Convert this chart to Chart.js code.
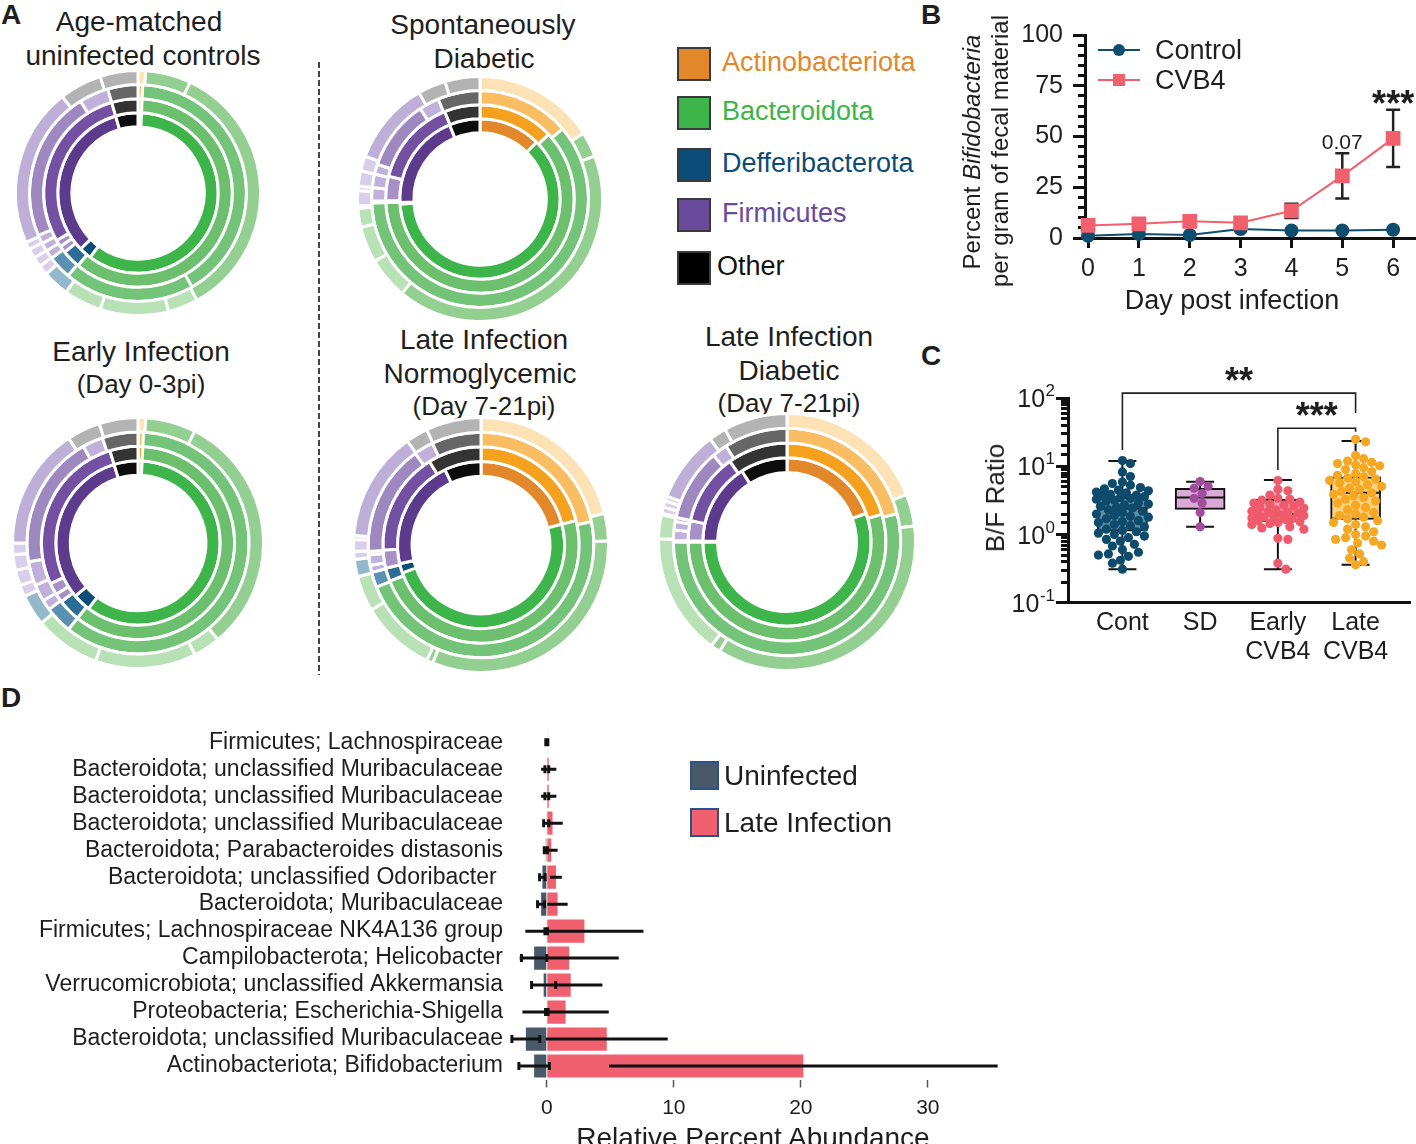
<!DOCTYPE html>
<html>
<head>
<meta charset="utf-8">
<title>Bifidobacteria figure</title>
<script src="https://cdn.jsdelivr.net/npm/chart.js@4.4.1/dist/chart.umd.min.js"></script>
<style>
  body { margin: 0; background: #fff; }
  #fig { position: relative; width: 1416px; height: 1144px; overflow: hidden; background: #fff;
         font-family: "Liberation Sans", Arial, Helvetica, sans-serif; color: #1e1e1e; }
  #fig canvas { position: absolute; }
  .lbl { position: absolute; white-space: nowrap; line-height: 1; }
  .ctr { transform: translateX(-50%); }
  .rot { transform: translate(-50%, -50%) rotate(-90deg); }
  .letter { position: absolute; font-weight: bold; font-size: 28px; line-height: 1; }
  .sw { position: absolute; box-sizing: border-box; }
  .dash { position: absolute; width: 1.5px;
          background: repeating-linear-gradient(to bottom, #444 0 6px, transparent 6px 9px); }
</style>
</head>
<body>
<div id="fig">
  <!-- panel A -->
  <div class="letter" style="left:1px;top:1px">A</div>
  <div class="lbl ctr" style="left:139px;top:8px;font-size:28px">Age-matched</div>
  <div class="lbl ctr" style="left:143px;top:42px;font-size:28px">uninfected controls</div>
  <div class="lbl ctr" style="left:483px;top:11px;font-size:28px">Spontaneously</div>
  <div class="lbl ctr" style="left:484px;top:45px;font-size:28px">Diabetic</div>
  <div class="lbl ctr" style="left:141px;top:338px;font-size:28px">Early Infection</div>
  <div class="lbl ctr" style="left:141px;top:371px;font-size:26px">(Day 0-3pi)</div>
  <div class="lbl ctr" style="left:484px;top:326px;font-size:28px">Late Infection</div>
  <div class="lbl ctr" style="left:480px;top:360px;font-size:28px">Normoglycemic</div>
  <div class="lbl ctr" style="left:484px;top:393px;font-size:26px">(Day 7-21pi)</div>
  <div class="lbl ctr" style="left:789px;top:323px;font-size:28px">Late Infection</div>
  <div class="lbl ctr" style="left:789px;top:357px;font-size:28px">Diabetic</div>
  <div class="lbl ctr" style="left:789px;top:390px;font-size:26px">(Day 7-21pi)</div>
  <div class="dash" style="left:318px;top:62px;height:613px"></div>

  <canvas id="ringCtrl"  width="248" height="248" style="left:14px;top:69px"></canvas>
  <canvas id="ringSD"    width="248" height="248" style="left:356px;top:75px"></canvas>
  <canvas id="ringEarly" width="254" height="254" style="left:11px;top:416px"></canvas>
  <canvas id="ringLateN" width="258" height="258" style="left:352px;top:416px"></canvas>
  <canvas id="ringLateD" width="260" height="260" style="left:657px;top:412px"></canvas>

  <div class="sw" style="left:677px;top:47px;width:34px;height:34px;background:#e2882a;border:2px solid #3a3a3a"></div>
  <div class="sw" style="left:677px;top:96px;width:34px;height:34px;background:#3db54a;border:2px solid #3a3a3a"></div>
  <div class="sw" style="left:677px;top:148px;width:34px;height:34px;background:#0c4c78;border:2px solid #3a3a3a"></div>
  <div class="sw" style="left:677px;top:198px;width:34px;height:34px;background:#6a4a9b;border:2px solid #3a3a3a"></div>
  <div class="sw" style="left:677px;top:251px;width:34px;height:34px;background:#000;border:2px solid #3a3a3a"></div>
  <div class="lbl" style="left:722px;top:49px;font-size:27px;color:#e2882a">Actinobacteriota</div>
  <div class="lbl" style="left:722px;top:98px;font-size:27px;color:#3db54a">Bacteroidota</div>
  <div class="lbl" style="left:722px;top:150px;font-size:27px;color:#0c4c78">Defferibacterota</div>
  <div class="lbl" style="left:722px;top:200px;font-size:27px;color:#6a4a9b">Firmicutes</div>
  <div class="lbl" style="left:717px;top:253px;font-size:27px;color:#111">Other</div>

  <!-- panel B -->
  <div class="letter" style="left:921px;top:1px">B</div>
  <canvas id="lineB" width="486" height="320" style="left:940px;top:0px"></canvas>
  <div class="lbl rot" style="left:972px;top:152px;font-size:24px">Percent <i>Bifidobacteria</i></div>
  <div class="lbl rot" style="left:1000px;top:151px;font-size:24px">per gram of fecal material</div>
  <div class="lbl ctr" style="left:1232px;top:287px;font-size:27px">Day post infection</div>
  <div class="sw" style="left:1098px;top:49px;width:42px;height:2px;background:#0e4d6e"></div>
  <div class="sw" style="left:1113px;top:44px;width:12px;height:12px;border-radius:50%;background:#0e4d6e"></div>
  <div class="sw" style="left:1098px;top:79px;width:42px;height:2px;background:#f25f6d"></div>
  <div class="sw" style="left:1113px;top:74px;width:12px;height:12px;background:#f25f6d"></div>
  <div class="lbl" style="left:1155px;top:37px;font-size:27px">Control</div>
  <div class="lbl" style="left:1155px;top:67px;font-size:27px">CVB4</div>

  <!-- panel C -->
  <div class="letter" style="left:921px;top:342px">C</div>
  <canvas id="boxC" width="476" height="330" style="left:940px;top:350px"></canvas>
  <div class="lbl rot" style="left:995px;top:498px;font-size:26px">B/F Ratio</div>

  <!-- panel D -->
  <div class="letter" style="left:1px;top:684px">D</div>
  <canvas id="barD" width="1020" height="436" style="left:0px;top:708px"></canvas>
  <div class="sw" style="left:690px;top:761px;width:29px;height:29px;background:#4a5969;border:2px solid #2d4f8f"></div>
  <div class="sw" style="left:690px;top:808px;width:29px;height:29px;background:#f0606e;border:2px solid #2d4f8f"></div>
  <div class="lbl" style="left:724px;top:762px;font-size:28px">Uninfected</div>
  <div class="lbl" style="left:724px;top:809px;font-size:28px">Late Infection</div>
  <div class="lbl ctr" style="left:753px;top:1124px;font-size:28px">Relative Percent Abundance</div>
</div>

<script>
Chart.defaults.font.family = '"Liberation Sans", Arial, Helvetica, sans-serif';
Chart.defaults.color = '#1e1e1e';
Chart.defaults.animation = false;
Chart.defaults.events = [];
Chart.defaults.responsive = false;
Chart.defaults.plugins.legend.display = false;
Chart.defaults.plugins.tooltip.enabled = false;

const FONT = '"Liberation Sans", Arial, Helvetica, sans-serif';

// ── A : ring charts (inner ring first, % of each ring) ──
// codes: O actino, G/g bacteroidota, B defferibacterota, P/p firmicutes, K other
const ringShades = {
  O: ['#e2882a', '#f6a11e', '#fbbd62', '#fde2b5'],
  G: ['#3db54a', '#6bbf6d', '#73c378', '#92cf91'],
  g: ['#8fcf8f', '#a7d9a5', '#b0ddae', '#b8e1b6'],
  B: ['#0c4c78', '#2b6d96', '#5a91b2', '#93b8cc'],
  P: ['#5c3a8c', '#7350a2', '#9e88c0', '#bdafd8'],
  p: ['#7b5da8', '#a690c8', '#c0b0dc', '#dacfea'],
  K: ['#0d0d0d', '#333333', '#666666', '#b3b3b3'],
};

const ctrlRings = [
  [0.7, 59.5, 2.5, 32.8, 4.5],
  [0.7, 60.3, 3.2, 1.2, 1.2, 28.9, 4.5],
  [0.7, 41, 19.5, 3.5, 1.3, 1.3, 1.3, 22.5, 4.4, 4.5],
  [1, 6, 35, 4, 9, 5, 3.5, 1.3, 1.3, 1.3, 1, 21, 5.6, 5],
];
const ctrlCodes = ['OGBPK', 'OGBppPK', 'OGGBpppPpK', 'OGGgggBppppPKK'];

const sdRings = [
  [12.5, 61.5, 0.3, 19.5, 6.2],
  [13, 61.4, 0.3, 4.2, 15, 6.1],
  [13.8, 60.6, 0.3, 2, 2, 1.5, 10.5, 3, 6.3],
  [16, 3.3, 41.7, 5.5, 4.8, 2.5, 0.3, 2, 0.6, 2, 2, 11, 3.7, 4.6],
];
const sdCodes = ['OGBPK', 'OGBpPK', 'OGBpppPpK', 'OGGgggBppppPKK'];

const earlyRings = [
  [0.8, 59.5, 3.5, 31.5, 4.7],
  [0.8, 60, 3.8, 1.5, 2, 27.2, 4.7],
  [0.8, 60, 4, 1.5, 2.5, 3.5, 19.5, 3, 5.2],
  [1, 6.5, 31.5, 3.5, 13, 8.5, 4, 1.5, 2, 2, 1.5, 15.7, 4.3, 5],
];
const earlyCodes = ['OGBPK', 'OGBppPK', 'OGBpppPpK', 'OGGgggBppppPKK'];

const lateNRings = [
  [21, 48.6, 1.8, 21.5, 7.1],
  [21, 48, 2.2, 3, 17, 8.8],
  [21.7, 47.2, 2.2, 1, 1.5, 0.5, 16, 2.8, 7.1],
  [21, 3.5, 31.7, 0.8, 9.5, 4.5, 2.2, 1, 1.5, 0.5, 14, 2.8, 7],
];
const lateNCodes = ['OGBPK', 'OGBpPK', 'OGBpppPpK', 'OGGGggBpppPKK'];

const lateDRings = [
  [19.5, 55.5, 0.2, 15.8, 9],
  [20.5, 54.5, 0.2, 3.3, 11.7, 9.8],
  [21, 54, 0.2, 1.5, 1.2, 0.6, 10.3, 2.2, 9],
  [19, 4, 35.8, 1.2, 15.4, 3, 0.2, 0.8, 0.8, 0.6, 9, 2.2, 8],
];
const lateDCodes = ['OGBPK', 'OGBpPK', 'OGBpppPpK', 'OGGGggBpppPKK'];

function drawRings(id, rings, codes) {
  const datasets = rings.map((vals, level) => ({
    data: vals,
    backgroundColor: codes[level].split('').map(c => ringShades[c][level]),
    borderColor: '#fff',
    borderWidth: 3,
  })).reverse(); // dataset 0 is the outer ring in Chart.js
  new Chart(document.getElementById(id), {
    type: 'doughnut',
    data: { datasets },
    options: { cutout: '54%', layout: { padding: 0 } },
  });
}

drawRings('ringCtrl', ctrlRings, ctrlCodes);
drawRings('ringSD', sdRings, sdCodes);
drawRings('ringEarly', earlyRings, earlyCodes);
drawRings('ringLateN', lateNRings, lateNCodes);
drawRings('ringLateD', lateDRings, lateDCodes);

// ── B : Bifidobacteria over time ──
const days       = [0, 1, 2, 3, 4, 5, 6];
const controlPct = [1.1, 2.0, 1.5, 4.4, 3.7, 3.7, 4.1];
const cvb4Pct    = [6.2, 7.0, 8.2, 7.5, 13.4, 30.6, 49.1];
const cvb4Sd     = [0, 0, 0, 0, 3.5, 11.1, 14.1];
const cvb4Marks  = ['', '', '', '', '', '0.07', '***'];

const cvbErrors = {
  id: 'cvbErrors',
  beforeDatasetsDraw(chart) {
    const { ctx, scales: { x, y } } = chart;
    ctx.save();
    ctx.strokeStyle = '#222';
    ctx.lineWidth = 2.5;
    days.forEach((d, i) => {
      if (!cvb4Sd[i]) return;
      const px = x.getPixelForValue(d);
      const top = y.getPixelForValue(cvb4Pct[i] + cvb4Sd[i]);
      const bot = y.getPixelForValue(cvb4Pct[i] - cvb4Sd[i]);
      ctx.beginPath();
      ctx.moveTo(px, top); ctx.lineTo(px, bot);
      ctx.moveTo(px - 7, top); ctx.lineTo(px + 7, top);
      ctx.moveTo(px - 7, bot); ctx.lineTo(px + 7, bot);
      ctx.stroke();
    });
    ctx.restore();
  },
  afterDraw(chart) {
    const { ctx, scales: { x, y } } = chart;
    ctx.save();
    ctx.fillStyle = '#1e1e1e';
    ctx.textAlign = 'center';
    ctx.textBaseline = 'alphabetic';
    days.forEach((d, i) => {
      const m = cvb4Marks[i];
      if (!m) return;
      const px = x.getPixelForValue(d);
      const top = y.getPixelForValue(cvb4Pct[i] + cvb4Sd[i]);
      if (m.startsWith('*')) {
        ctx.font = `bold 36px ${FONT}`;
        ctx.fillText(m, px, top + 6);
      } else {
        ctx.font = `21px ${FONT}`;
        ctx.fillText(m, px, top - 4);
      }
    });
    ctx.restore();
  },
};

new Chart(document.getElementById('lineB'), {
  type: 'line',
  data: {
    datasets: [
      { label: 'CVB4', data: days.map((d, i) => ({ x: d, y: cvb4Pct[i] })),
        borderColor: '#f25f6d', backgroundColor: '#f25f6d', borderWidth: 2,
        pointStyle: 'rect', pointRadius: 9, clip: false },
      { label: 'Control', data: days.map((d, i) => ({ x: d, y: controlPct[i] })),
        borderColor: '#0e4d6e', backgroundColor: '#0e4d6e', borderWidth: 2,
        pointStyle: 'circle', pointRadius: 6, clip: false },
    ],
  },
  options: {
    layout: { padding: { top: 35, right: 1, left: 0, bottom: 0 } },
    scales: {
      x: {
        type: 'linear', min: -0.06, max: 6.43,
        afterFit: s => { s.height = 82; },
        ticks: { stepSize: 1, includeBounds: false, padding: 6, font: { size: 25 }, color: '#1e1e1e' },
        grid: { drawOnChartArea: false, tickLength: 10, tickWidth: 3, tickColor: '#111' },
        border: { width: 3, color: '#111' },
      },
      y: {
        min: 0, max: 100,
        afterFit: s => { s.width = 145; },
        ticks: { stepSize: 5, padding: 10, autoSkip: false, font: { size: 25 }, color: '#1e1e1e',
                 callback: v => (v % 25 === 0 ? v : '') },
        grid: { drawOnChartArea: false, tickLength: 12, tickWidth: 3, tickColor: '#111',
                tickBorderDash: c => (c.tick && c.tick.value % 25 === 0 ? [] : [0, 5, 20]) },
        border: { width: 3, color: '#111' },
      },
    },
  },
  plugins: [cvbErrors],
});

// ── C : B/F ratio box plots ──
const groups   = ['Cont', 'SD', ['Early', 'CVB4'], ['Late', 'CVB4']];
const boxQ1    = [1.12, 2.34, 1.54, 1.67];
const boxMed   = [2.42, 3.51, 2.0, 4.1];
const boxQ3    = [3.58, 4.76, 3.28, 7.06];
const boxMin   = [0.31, 1.3, 0.31, 0.36];
const boxMax   = [12.0, 5.96, 6.3, 23.6];
const dotColor = ['#0d4a6b', '#a14c9c', '#ef5b6c', '#f7a823'];
const boxFill  = ['#628ca2', '#d9aad6', '#f5a3ad', '#fcd27e'];

const contRatio  = [12.2, 11.0, 8.3, 7.1, 5.9, 5.6, 5.3, 4.9, 4.7, 4.5, 4.4, 4.2, 4.1, 3.9, 3.8, 3.7, 3.6,
                    3.5, 3.4, 3.3, 3.2, 3.1, 2.9, 2.8, 2.7, 2.6, 2.5, 2.45, 2.3, 2.2, 2.1, 2.0, 1.9, 1.85,
                    1.8, 1.7, 1.6, 1.55, 1.5, 1.4, 1.35, 1.3, 1.2, 1.15, 1.1, 1.05, 1.0, 0.95, 0.9, 0.85,
                    0.8, 0.72, 0.68, 0.6, 0.55, 0.52, 0.5, 0.48, 0.42, 0.38, 0.31];
const sdRatio    = [6.0, 5.1, 4.8, 4.0, 3.4, 2.9, 2.1, 1.3];
const earlyRatio = [6.2, 4.6, 4.4, 3.8, 3.4, 3.3, 3.2, 3.0, 2.9, 2.8, 2.7, 2.6, 2.5, 2.45, 2.3, 2.2, 2.15,
                    2.1, 2.05, 2.0, 1.95, 1.9, 1.85, 1.8, 1.75, 1.7, 1.65, 1.6, 1.55, 1.5, 1.45, 1.4, 1.3,
                    1.25, 1.2, 0.88, 0.85, 0.38, 0.31];
const lateRatio  = [25, 23, 14.5, 13, 12, 11.5, 11, 10.6, 10.2, 9.6, 9, 8.4, 7.9, 7.4, 7.1, 6.8, 6.5, 6.2,
                    6.0, 5.7, 5.4, 5.1, 4.8, 4.6, 4.3, 4.1, 3.9, 3.7, 3.5, 3.3, 3.1, 2.9, 2.7, 2.5, 2.3,
                    2.1, 2.0, 1.9, 1.8, 1.7, 1.6, 1.5, 1.4, 1.3, 1.2, 1.1, 1.0, 0.95, 0.9, 0.85, 0.8, 0.75,
                    0.7, 0.6, 0.52, 0.45, 0.4, 0.36];
const ratioSets = [contRatio, sdRatio, earlyRatio, lateRatio];

const brackets = [
  { from: 0, to: 3, top: 119, legFrom: 17.4, legTo: 61, mark: '**' },
  { from: 2, to: 3, top: 36.3, legFrom: 8.85, legTo: 32.4, mark: '***' },
];

// spread the dots sideways so they don't pile up (px per decade 68, px per group 77.7)
function swarm(vals, idx) {
  const placed = [];
  return [...vals].sort((a, b) => b - a).map(v => {
    const py = Math.log10(v) * 68;
    let best = 0, bestD = -1;
    for (let k = 0; k <= 13; k++) {
      for (const s of (k ? [1, -1] : [1])) {
        const ox = s * k * 2;
        let dmin = Infinity;
        placed.forEach(p => { dmin = Math.min(dmin, Math.hypot(p[0] - ox, p[1] - py)); });
        if (dmin > bestD) { bestD = dmin; best = ox; }
        if (dmin >= 8.5) { k = 99; break; }
      }
    }
    placed.push([best, py]);
    return { x: idx + best / 77.7, y: v };
  });
}

const boxParts = {
  id: 'boxParts',
  afterDatasetDraw(chart, args) {
    if (args.index !== 4) return;
    const { ctx, scales: { x, y } } = chart;
    ctx.save();
    ctx.strokeStyle = '#111';
    ctx.lineWidth = 2;
    groups.forEach((g, i) => {
      const px = x.getPixelForValue(i);
      const lo = y.getPixelForValue(boxMin[i]), hi = y.getPixelForValue(boxMax[i]);
      const q1 = y.getPixelForValue(boxQ1[i]), q3 = y.getPixelForValue(boxQ3[i]);
      const md = y.getPixelForValue(boxMed[i]);
      ctx.beginPath();
      ctx.moveTo(px, q1); ctx.lineTo(px, lo);
      ctx.moveTo(px, q3); ctx.lineTo(px, hi);
      ctx.moveTo(px - 14, lo); ctx.lineTo(px + 14, lo);
      ctx.moveTo(px - 14, hi); ctx.lineTo(px + 14, hi);
      ctx.moveTo(px - 25, md); ctx.lineTo(px + 25, md);
      ctx.stroke();
    });
    ctx.restore();
  },
  afterDraw(chart) {
    const { ctx, scales: { x, y } } = chart;
    ctx.save();
    ctx.fillStyle = '#1e1e1e';
    ctx.strokeStyle = '#222';
    ctx.lineWidth = 1.6;
    // 10^k labels on the log axis
    [-1, 0, 1, 2].forEach(k => {
      const py = y.getPixelForValue(Math.pow(10, k));
      const right = y.right - 13;
      ctx.textAlign = 'right';
      ctx.font = `17px ${FONT}`;
      const exp = String(k);
      ctx.fillText(exp, right, py - 2);
      const w = ctx.measureText(exp).width;
      ctx.font = `25px ${FONT}`;
      ctx.fillText('10', right - w - 0.5, py + 9);
    });
    // significance brackets
    brackets.forEach(b => {
      const x1 = x.getPixelForValue(b.from), x2 = x.getPixelForValue(b.to);
      const top = y.getPixelForValue(b.top);
      ctx.beginPath();
      ctx.moveTo(x1, y.getPixelForValue(b.legFrom));
      ctx.lineTo(x1, top); ctx.lineTo(x2, top);
      ctx.lineTo(x2, y.getPixelForValue(b.legTo));
      ctx.stroke();
      ctx.textAlign = 'center';
      ctx.font = `bold 36px ${FONT}`;
      ctx.fillText(b.mark, (x1 + x2) / 2, top);
    });
    ctx.restore();
  },
};

const logTickIsMajor = v => Math.abs(Math.log10(v) - Math.round(Math.log10(v))) < 1e-6;

new Chart(document.getElementById('boxC'), {
  type: 'scatter',
  data: {
    datasets: [
      ...ratioSets.map((vals, i) => ({
        type: 'scatter', data: swarm(vals, i), pointRadius: 4.6, borderWidth: 0,
        backgroundColor: dotColor[i], clip: false,
      })),
      {
        type: 'bar',
        data: groups.map((g, i) => ({ x: i, y: [boxQ1[i], boxQ3[i]] })),
        backgroundColor: boxFill, borderColor: '#111', borderWidth: 2, borderSkipped: false,
        barThickness: 50,
      },
    ],
  },
  options: {
    layout: { padding: { top: 48.3, right: 6, left: 0, bottom: 0 } },
    scales: {
      x: {
        type: 'linear', min: -0.7, max: 3.7, offset: false,
        afterFit: s => { s.height = 77.3; },
        ticks: { stepSize: 1, includeBounds: false, padding: 6, font: { size: 25, lineHeight: 1.16 },
                 color: '#1e1e1e', callback: v => (Number.isInteger(v) ? groups[v] : '') },
        grid: { display: false, drawTicks: false, offset: false },
        border: { width: 3, color: '#111' },
      },
      y: {
        type: 'logarithmic', min: 0.1, max: 100,
        afterFit: s => { s.width = 128; },
        ticks: { autoSkip: false, callback: () => '', padding: 0 },
        grid: { drawOnChartArea: false, tickLength: 12, tickWidth: 3, tickColor: '#111',
                tickBorderDash: c => (c.tick && logTickIsMajor(c.tick.value) ? [] : [0, 5, 20]) },
        border: { width: 3, color: '#111' },
      },
    },
  },
  plugins: [boxParts],
});

// ── D : differentially abundant taxa ──
const taxa = [
  'Firmicutes; Lachnospiraceae',
  'Bacteroidota; unclassified Muribaculaceae',
  'Bacteroidota; unclassified Muribaculaceae',
  'Bacteroidota; unclassified Muribaculaceae',
  'Bacteroidota; Parabacteroides distasonis',
  'Bacteroidota; unclassified Odoribacter ',
  'Bacteroidota; Muribaculaceae',
  'Firmicutes; Lachnospiraceae NK4A136 group',
  'Campilobacterota; Helicobacter',
  'Verrucomicrobiota; unclassified Akkermansia',
  'Proteobacteria; Escherichia-Shigella',
  'Bacteroidota; unclassified Muribaculaceae',
  'Actinobacteriota; Bifidobacterium',
];
const uninfMean = [0, 0, 0, -0.05, -0.08, -0.35, -0.45, -0.05, -1.0, -0.25, 0, -1.65, -1.0];
const uninfSd   = [0.08, 0.15, 0.15, 0.2, 0.12, 0.22, 0.28, 0.1, 1.0, 0.95, 0.1, 1.1, 1.2];
const lateMean  = [0.03, 0.15, 0.15, 0.45, 0.35, 0.72, 0.84, 2.96, 1.76, 1.88, 1.48, 4.72, 20.2];
const lateSd    = [0.08, 0.6, 0.6, 0.8, 0.5, 0.46, 0.8, 4.65, 3.9, 2.5, 3.4, 4.8, 15.3];

const taxaErrors = {
  id: 'taxaErrors',
  afterDatasetsDraw(chart) {
    const { ctx, scales: { x, y } } = chart;
    ctx.save();
    ctx.strokeStyle = '#111';
    ctx.lineWidth = 3;
    taxa.forEach((t, i) => {
      const py = y.getPixelForValue(i);
      const a = x.getPixelForValue(uninfMean[i] - uninfSd[i]);
      const b = x.getPixelForValue(uninfMean[i] + uninfSd[i]);
      ctx.beginPath();
      ctx.moveTo(a, py); ctx.lineTo(b, py);
      ctx.moveTo(a, py - 4); ctx.lineTo(a, py + 4);
      ctx.moveTo(b, py - 4); ctx.lineTo(b, py + 4);
      ctx.moveTo(x.getPixelForValue(lateMean[i] - lateSd[i]), py);
      ctx.lineTo(x.getPixelForValue(lateMean[i] + lateSd[i]), py);
      ctx.stroke();
    });
    ctx.restore();
  },
};

new Chart(document.getElementById('barD'), {
  type: 'bar',
  data: {
    labels: taxa,
    datasets: [
      { label: 'Late Infection', data: lateMean, backgroundColor: '#f0606e', grouped: false,
        barPercentage: 0.86, categoryPercentage: 1 },
      { label: 'Uninfected', data: uninfMean, backgroundColor: '#4a5969', grouped: false,
        barPercentage: 0.86, categoryPercentage: 1 },
    ],
  },
  options: {
    indexAxis: 'y',
    layout: { padding: { top: 0, right: 16, left: 0, bottom: 0 } },
    scales: {
      x: {
        type: 'linear', min: -2.9, max: 36,
        afterFit: s => { s.height = 64.5; },
        ticks: { stepSize: 10, includeBounds: false, padding: 8, font: { size: 21 }, color: '#1e1e1e' },
        grid: { drawOnChartArea: false, tickLength: 8, tickWidth: 1.5, tickColor: '#555' },
        border: { display: false },
      },
      y: {
        afterFit: s => { s.width = 510; },
        ticks: { autoSkip: false, padding: 7, font: { size: 23 }, color: '#1e1e1e' },
        grid: { display: false, drawTicks: false },
        border: { display: false },
      },
    },
  },
  plugins: [taxaErrors],
});
</script>
</body>
</html>
